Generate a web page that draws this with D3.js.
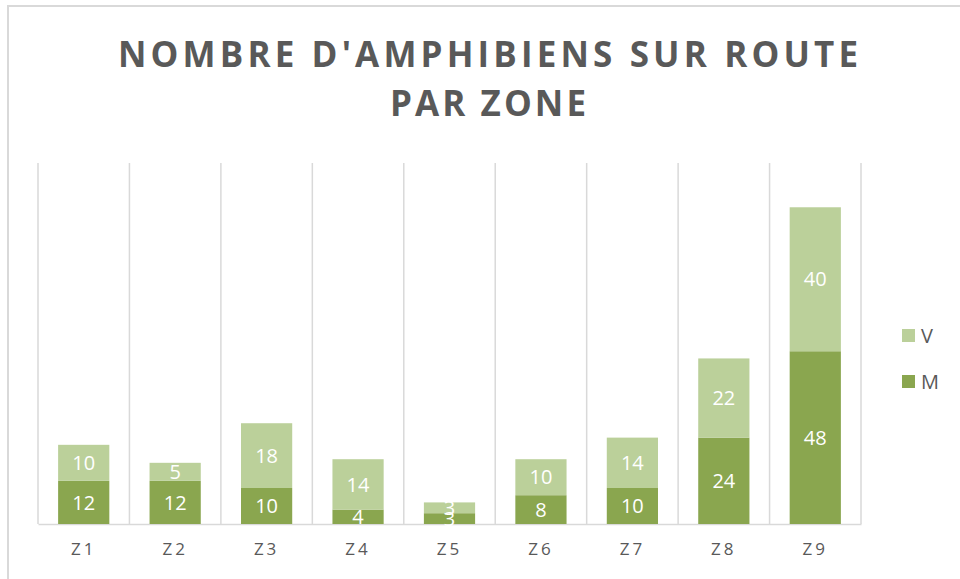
<!DOCTYPE html>
<html><head><meta charset="utf-8">
<script src="https://cdn.jsdelivr.net/npm/d3@7"></script>
<style>body{margin:0;background:#fff}svg{display:block}</style>
</head><body>
<svg id="c" width="960" height="579"></svg>
<script>
const categories = ["Z1","Z2","Z3","Z4","Z5","Z6","Z7","Z8","Z9"];
const seriesM = [12,12,10,4,3,8,10,24,48];
const seriesV = [10,5,18,14,3,10,14,22,40];
const seriesNames = ["M","V"];
const titleLines = ["NOMBRE D'AMPHIBIENS SUR ROUTE","PAR ZONE"];

(function(){
const colors = {M:"#8aa64f", V:"#bbd09a"};
const svg = d3.select("#c");
const font = "'Open Sans', 'Noto Sans', sans-serif";

// outer border
svg.append("rect").attr("x",8).attr("y",6).attr("width",1000).attr("height",1000)
  .attr("fill","none").attr("stroke","#d9d9d9").attr("stroke-width",2);

// title
const tl = [{t:titleLines[0], y:67, w:740},{t:titleLines[1], y:116, w:196}];
svg.selectAll("text.title").data(tl).join("text").attr("class","title")
  .attr("x",488).attr("y",d=>d.y).attr("text-anchor","middle")
  .attr("font-family",font).attr("font-weight","bold").attr("font-size",35)
  .attr("fill","#595959")
  .attr("textLength",d=>d.w).attr("lengthAdjust","spacing")
  .text(d=>d.t);

const pL=38, pR=861, pT=163, pB=524;
const x = d3.scaleBand().domain(categories).range([pL,pR]).paddingInner(0).paddingOuter(0);
const y = d3.scaleLinear().domain([0,100.3]).range([pB, pT]);

// vertical gridlines (category separators)
const gl = d3.range(categories.length+1).map(i=> pL + i*x.bandwidth());
svg.selectAll("line.grid").data(gl).join("line").attr("class","grid")
  .attr("x1",d=>d).attr("x2",d=>d).attr("y1",pT).attr("y2",pB)
  .attr("stroke","#d9d9d9").attr("stroke-width",1.5);

// axis
const axis = d3.axisBottom(x).tickSize(0).tickPadding(0);
const ag = svg.append("g").attr("transform",`translate(0,${pB})`).call(axis);
ag.select(".domain").attr("stroke","#d9d9d9").attr("stroke-width",1.5);
ag.selectAll("text").attr("dy",0).attr("y",31)
  .attr("font-family",font).attr("font-size",17).attr("fill","#595959")
  .attr("letter-spacing","3px")
  .text(d=>d);

const data = categories.map((c,i)=>({cat:c, M:seriesM[i], V:seriesV[i]}));
const stack = d3.stack().keys(seriesNames)(data);
const barW = x.bandwidth()*0.56;

const g = svg.append("g");
stack.forEach(s=>{
  g.selectAll(null).data(s).join("rect")
    .attr("x",d=>x(d.data.cat)+(x.bandwidth()-barW)/2)
    .attr("y",d=>y(d[1])).attr("width",barW)
    .attr("height",d=>y(d[0])-y(d[1]))
    .attr("fill",colors[s.key]);
});
stack.forEach(s=>{
  g.selectAll(null).data(s).join("text")
    .attr("x",d=>x(d.data.cat)+x.bandwidth()/2)
    .attr("y",d=>(y(d[0])+y(d[1]))/2)
    .attr("dy","0.36em").attr("text-anchor","middle")
    .attr("font-family",font).attr("font-size",20).attr("fill","#fff")
    .text(d=>d[1]-d[0]);
});

// legend
const leg = [{k:"V",y:329},{k:"M",y:375}];
const lg = svg.selectAll("g.leg").data(leg).join("g").attr("class","leg");
lg.append("rect").attr("x",902).attr("y",d=>d.y).attr("width",13).attr("height",13)
  .attr("fill",d=>colors[d.k]);
lg.append("text").attr("x",921).attr("y",d=>d.y+14)
  .attr("font-family",font).attr("font-size",20).attr("fill","#595959").text(d=>d.k);
})();
</script>
</body></html>
